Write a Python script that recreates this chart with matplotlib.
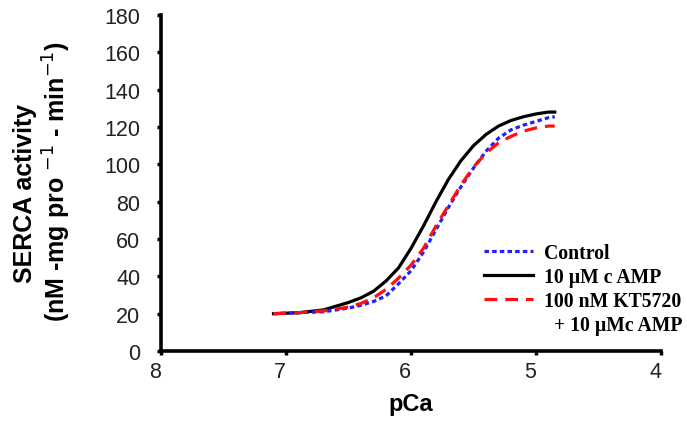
import matplotlib
matplotlib.use("Agg")
import matplotlib.pyplot as plt
import matplotlib.transforms as mtransforms
from matplotlib.lines import Line2D

# pCa values and SERCA activity
pca_black = [7.1, 6.9, 6.7, 6.5, 6.4, 6.3, 6.2, 6.1, 6.0, 5.9, 5.8, 5.7, 5.6, 5.5, 5.4, 5.3, 5.2, 5.1, 5.0, 4.9, 4.85]
camp = [20, 20.5, 22, 26, 28.5, 32, 37.5, 44.5, 55, 67, 80, 92, 102, 110, 116, 120.5, 123.5, 125.5, 127, 128, 128]

pca_red = [7.1, 6.9, 6.7, 6.5, 6.4, 6.3, 6.2, 6.1, 6.0, 5.9, 5.8, 5.7, 5.6, 5.5, 5.4, 5.3, 5.2, 5.1, 5.0, 4.9, 4.85]
kt5720 = [20, 20.5, 21.5, 23.5, 25.5, 28.5, 33, 39, 46, 55, 67, 78, 89, 98.5, 106, 111.5, 115, 117.8, 119.5, 120.5, 120.5]

pca_blue = [7.1, 6.9, 6.7, 6.5, 6.4, 6.3, 6.2, 6.1, 6.0, 5.9, 5.8, 5.7, 5.6, 5.5, 5.4, 5.3, 5.2, 5.1, 5.0, 4.9, 4.85]
control = [20, 20.5, 21, 23, 24.5, 26.5, 29.5, 36, 43, 53, 65, 77, 88, 98, 107, 114, 118.5, 121, 123, 125, 125.5]

x_ticks = [8, 7, 6, 5, 4]
y_ticks = list(range(0, 181, 20))

fig = plt.figure(figsize=(6.87, 4.27), dpi=100)
ax = fig.add_axes([161 / 687, 1 - 352 / 427, 500 / 687, 336 / 427])

h_ctrl, = ax.plot(pca_blue, control, color="#1f1fff", lw=2.3, dashes=(1.4, 1.0), zorder=3)
h_camp, = ax.plot(pca_black, camp, color="black", lw=2.3, zorder=2)
h_kt, = ax.plot(pca_red, kt5720, color="#ff1010", lw=2.3, dashes=(4, 2.5), zorder=4)
blank = Line2D([], [], color="none")

ax.set_xlim(8, 4)
ax.set_ylim(0, 180)
ax.set_xticks(x_ticks)
ax.set_yticks(y_ticks)

for side in ["top", "right"]:
    ax.spines[side].set_visible(False)
for side in ["left", "bottom"]:
    ax.spines[side].set_linewidth(2.6)

tick_font = {"family": ["Liberation Sans Narrow", "Liberation Sans", "DejaVu Sans"], "size": 15.5}
ax.tick_params(axis="both", direction="out", length=3, width=2.5, color="black")
ax.tick_params(axis="y", pad=12)
ax.tick_params(axis="x", pad=4)
ax.set_xticklabels([str(t) for t in x_ticks], fontdict=tick_font, color="#222222")
ax.set_yticklabels([str(t) for t in y_ticks], fontdict=tick_font, color="#222222")

shift = mtransforms.ScaledTranslation(-6 / 100, 0, fig.dpi_scale_trans)
for lab in ax.get_xticklabels():
    lab.set_transform(lab.get_transform() + shift)

label_family = ["Liberation Sans", "DejaVu Sans"]
fig.text(25 / 687, 1 - 193 / 427, "SERCA activity", rotation=90, ha="center", va="center",
         fontsize=18, fontweight="bold", family=label_family)
fig.text(57 / 687, 1 - 182 / 427, r"(nM -mg pro $^{-1}$ - min$^{-1}$)", rotation=90,
         ha="center", va="center", fontsize=18, fontweight="bold", family=label_family)
fig.text(411 / 687, 1 - 405 / 427, "pCa", ha="center", va="center",
         fontsize=17, fontweight="bold", family=label_family)

ax.legend([h_ctrl, h_camp, h_kt, blank],
          ["Control", "10 \u00b5M c AMP", "100 nM KT5720", "  + 10 \u00b5Mc AMP"],
          loc="upper left", bbox_to_anchor=(474 / 687, 1 - 234 / 427),
          bbox_transform=fig.transFigure, frameon=False, borderpad=0,
          handlelength=2.5, handletextpad=0.55, labelspacing=0.2,
          prop={"family": ["Liberation Serif", "DejaVu Serif"], "weight": "bold", "size": 14.2})

fig.savefig("out.png", dpi=100)
plt.close(fig)
